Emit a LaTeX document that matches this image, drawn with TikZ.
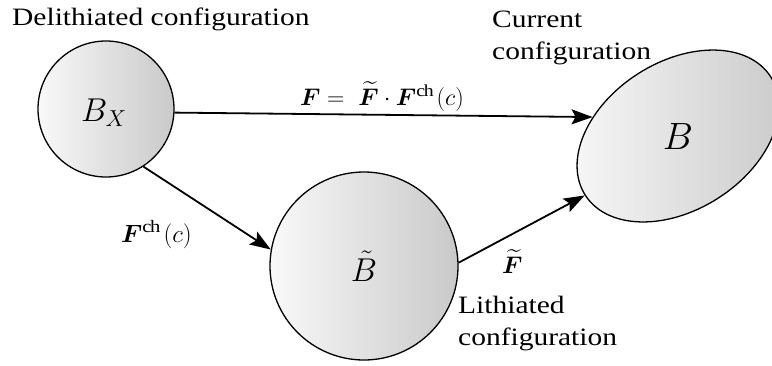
\RequirePackage{fix-cm}
\documentclass[tikz,border=0pt]{standalone}
\usepackage{amsmath}
\usepackage{bm}
\usepackage{fontspec}
\setmainfont{Liberation Serif}[FakeStretch=1.18]
\usetikzlibrary{shapes.geometric,arrows.meta}
\begin{document}
\begin{tikzpicture}[x=1pt,y=-1pt,
  body/.style={draw=black, line width=1.3pt, left color=gray!5, right color=gray!42, inner sep=0pt},
  arr/.style={line width=1.8pt, -{Stealth[length=21pt,width=15pt,inset=4pt]}},
  lbl/.style={font=\fontsize{25}{32}\selectfont, align=left, inner sep=0pt},
  mlbl/.style={font=\fontsize{24}{28}\selectfont, inner sep=0pt},
  sym/.style={font=\fontsize{33}{36}\selectfont, inner sep=0pt}]
\useasboundingbox (0,0) rectangle (772,365);
% bodies
\node[body, circle, minimum size=136pt] (bx) at (106,109) {};
\node[body, circle, minimum size=188pt] (bt) at (364,266) {};
\node[body, ellipse, minimum width=220pt, minimum height=148pt, rotate=32.5] (B) at (678,136) {};
% symbols
\node[sym] (sbx) at (104,113) {$B_X$};
\node[sym] (sbt) at (364,266) {$\tilde{B}$};
\node[sym, font=\fontsize{38}{42}\selectfont] (sb) at (678,137) {$B$};
% arrows
\draw[arr] (bx.-3) -- (B.135);
\draw[arr] (bx.-57) -- (bt.170);
\draw[arr] (bt.2) -- (B.180);
% labels
\node[lbl, anchor=base west] (l1) at (12,25) {Delithiated configuration};
\node[lbl, anchor=base west] (l2) at (492,59) {Current\\configuration};
\node[lbl, anchor=base west] (l3) at (458,345) {Lithiated\\configuration};
\node[mlbl, anchor=base west] (m1) at (300,105) {$\bm{F} =\ \widetilde{\bm{F}}\cdot\bm{F}^{\mathrm{ch}}\,(c)$};
\node[mlbl, font=\fontsize{25}{29}\selectfont, anchor=base west] (m2) at (121,242) {$\bm{F}^{\mathrm{ch}}\,(c)$};
\node[mlbl, anchor=base west] (m3) at (502,273) {$\widetilde{\bm{F}}$};
\end{tikzpicture}
\end{document}
